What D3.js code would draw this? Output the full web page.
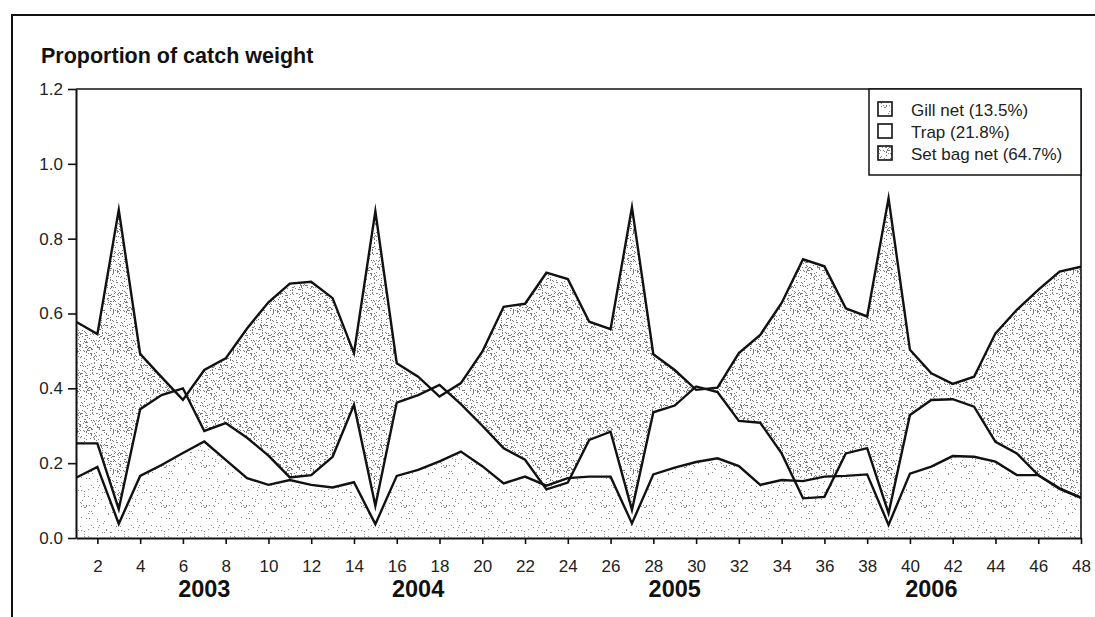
<!DOCTYPE html>
<html>
<head>
<meta charset="utf-8">
<script src="https://cdn.jsdelivr.net/npm/d3@7"></script>
<style>
  html, body { margin: 0; padding: 0; background: #fff; }
  svg { display: block; font-family: "Liberation Sans", Arial, sans-serif; }
</style>
</head>
<body>
<svg id="chart" width="1095" height="617"></svg>
<script>
// Monthly proportion of catch weight by gear, Jan 2003 - Dec 2006 (months 1-48)
const months = [1,2,3,4,5,6,7,8,9,10,11,12,13,14,15,16,17,18,19,20,21,22,23,24,
                25,26,27,28,29,30,31,32,33,34,35,36,37,38,39,40,41,42,43,44,45,46,47,48];

const gillNet = [0.161,0.190,0.038,0.166,0.195,0.227,0.258,0.209,0.160,0.142,0.155,0.142,
                 0.135,0.149,0.037,0.166,0.182,0.205,0.231,0.192,0.146,0.164,0.140,0.160,
                 0.164,0.164,0.039,0.170,0.188,0.203,0.213,0.192,0.142,0.155,0.152,0.164,
                 0.166,0.170,0.035,0.172,0.191,0.219,0.217,0.204,0.168,0.168,0.133,0.108];

const trap = [0.253,0.253,0.077,0.344,0.382,0.400,0.286,0.307,0.268,0.220,0.162,0.168,
              0.217,0.356,0.086,0.362,0.382,0.409,0.358,0.300,0.240,0.209,0.130,0.148,
              0.262,0.284,0.075,0.336,0.354,0.405,0.390,0.313,0.308,0.226,0.106,0.110,
              0.226,0.240,0.066,0.329,0.369,0.371,0.351,0.257,0.226,0.168,0.131,0.107];

const setBagNet = [0.578,0.545,0.877,0.492,0.430,0.369,0.449,0.480,0.560,0.630,0.680,0.685,
                   0.641,0.494,0.873,0.467,0.431,0.378,0.414,0.498,0.618,0.626,0.709,0.692,
                   0.578,0.558,0.884,0.491,0.449,0.396,0.402,0.494,0.543,0.628,0.745,0.726,
                   0.614,0.592,0.908,0.503,0.440,0.412,0.431,0.547,0.610,0.663,0.712,0.725];

const xTickMonths = [2,4,6,8,10,12,14,16,18,20,22,24,26,28,30,32,34,36,38,40,42,44,46,48];
const yTickValues = [0, 0.2, 0.4, 0.6, 0.8, 1.0, 1.2];
const yearLabels = ["2003", "2004", "2005", "2006"];
const yearMonths = [7, 17, 29, 41];
const legendLabels = ["Gill net (13.5%)", "Trap (21.8%)", "Set bag net (64.7%)"];

const svg = d3.select("#chart");
const defs = svg.append("defs");

// Stipple textures built from a deterministic hash
function stipple(id, density, color, size, seed) {
  const p = defs.append("pattern")
    .attr("id", id).attr("patternUnits", "userSpaceOnUse")
    .attr("width", size).attr("height", size);
  p.append("rect").attr("width", size).attr("height", size).attr("fill", "#fff");
  for (let gy = 0; gy < size; gy++) {
    for (let gx = 0; gx < size; gx++) {
      let h = Math.imul((gx * 374761393 + gy * 668265263 + seed) | 0, 1274126177) >>> 0;
      h = (h ^ (h >>> 13)) >>> 0;
      h = Math.imul(h, 1103515245) >>> 0;
      h = (h ^ (h >>> 16)) >>> 0;
      if ((h % 1000) / 1000 < density) {
        p.append("rect").attr("x", gx).attr("y", gy)
          .attr("width", 1).attr("height", 1).attr("fill", color);
      }
    }
  }
}
stipple("denseDots", 0.15, "#7a7a7a", 40, 17);
stipple("lightDots", 0.035, "#8a8a8a", 40, 91);

const x = d3.scaleLinear().domain([1, 48]).range([76, 1081]);
const y = d3.scaleLinear().domain([0, 1.2]).range([538, 89]);

// Outer frame
svg.append("path")
  .attr("d", "M12,617 L12,15 L1095,15")
  .attr("fill", "none").attr("stroke", "#111").attr("stroke-width", 2);

// Title
svg.append("text").attr("x", 41).attr("y", 63)
  .attr("font-size", 21.5).attr("font-weight", "bold").attr("fill", "#111")
  .text("Proportion of catch weight");

// Plot areas
const plot = svg.append("g");
defs.append("clipPath").attr("id", "plotClip")
  .append("rect").attr("x", 76).attr("y", 89).attr("width", 1005).attr("height", 449);
plot.attr("clip-path", "url(#plotClip)");

const series = [
  { name: "setBag", values: setBagNet, fill: "url(#denseDots)" },
  { name: "trap", values: trap, fill: "#fff" },
  { name: "gill", values: gillNet, fill: "url(#lightDots)" }
];

const area = d3.area()
  .x((d, i) => x(months[i]))
  .y0(y(0))
  .y1(d => y(d));
const line = d3.line()
  .x((d, i) => x(months[i]))
  .y(d => y(d));

series.forEach(s => {
  plot.append("path").attr("d", area(s.values)).attr("fill", s.fill).attr("stroke", "none");
});
series.forEach(s => {
  plot.append("path").attr("d", line(s.values))
    .attr("fill", "none").attr("stroke", "#111").attr("stroke-width", 2.4)
    .attr("stroke-linejoin", "miter").attr("stroke-miterlimit", 12);
});

// Axes
const yAxis = svg.append("g").attr("transform", "translate(76,0)")
  .call(d3.axisLeft(y).tickValues(yTickValues).tickFormat(d3.format(".1f"))
    .tickSize(8).tickSizeOuter(0).tickPadding(5));
const xAxis = svg.append("g").attr("transform", "translate(0,538)")
  .call(d3.axisBottom(x).tickValues(xTickMonths).tickFormat(d3.format("d"))
    .tickSize(6).tickSizeOuter(0).tickPadding(16));
[yAxis, xAxis].forEach(a => {
  a.select(".domain").attr("stroke", "#111").attr("stroke-width", 2);
  a.selectAll(".tick line").attr("stroke", "#111").attr("stroke-width", 1.6);
  a.selectAll(".tick text").attr("font-size", 17).attr("fill", "#222")
    .attr("font-family", "Liberation Sans, Arial, sans-serif");
});

// Plot frame (top and right)
svg.append("path").attr("d", `M${x(1)},${y(1.2)} L${x(48)},${y(1.2)} L${x(48)},${y(0)}`)
  .attr("fill", "none").attr("stroke", "#111").attr("stroke-width", 1.6);

// Year labels
svg.append("g").selectAll("text").data(yearLabels).join("text")
  .attr("x", (d, i) => x(yearMonths[i])).attr("y", 597)
  .attr("text-anchor", "middle").attr("font-size", 23.5).attr("font-weight", "bold")
  .attr("fill", "#111").text(d => d);

// Legend
const lg = svg.append("g");
lg.append("rect").attr("x", 869).attr("y", y(1.2)).attr("width", x(48) - 869).attr("height", 86)
  .attr("fill", "#fff").attr("stroke", "#111").attr("stroke-width", 1.5);
const legendFills = ["url(#lightDots)", "#fff", "url(#denseDots)"];
legendLabels.forEach((lab, i) => {
  const cy = 109 + i * 22;
  lg.append("rect").attr("x", 878).attr("y", cy - 7).attr("width", 14).attr("height", 14)
    .attr("fill", legendFills[i]).attr("stroke", "#111").attr("stroke-width", 1.6);
  lg.append("text").attr("x", 911).attr("y", cy + 7)
    .attr("font-size", 17).attr("fill", "#222").text(lab);
});
</script>
</body>
</html>
